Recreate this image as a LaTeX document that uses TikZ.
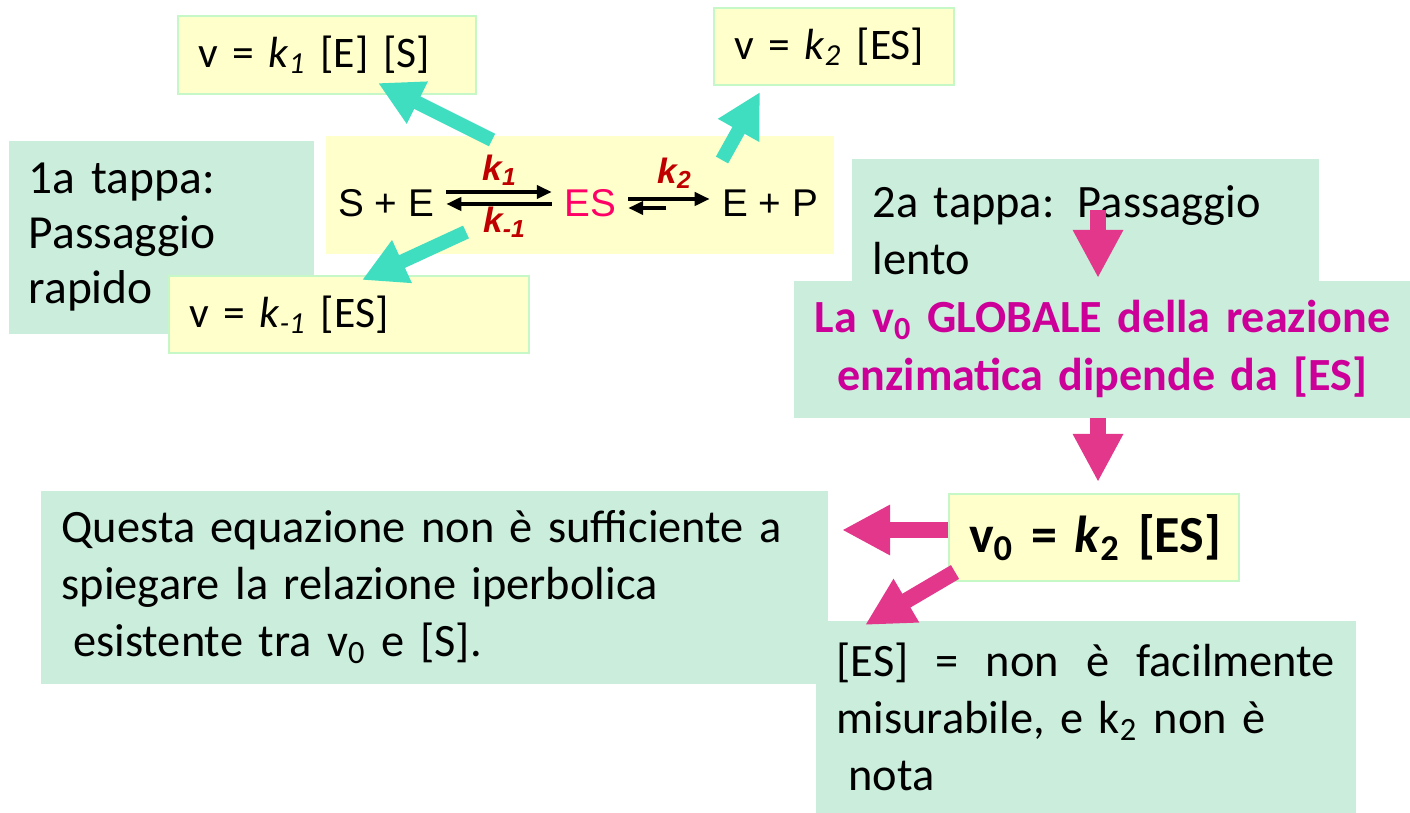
\documentclass[tikz,border=0pt]{standalone}
\usepackage{fontspec}
\setmainfont{Carlito}
\newfontfamily\eqfont{Liberation Sans}
\usetikzlibrary{arrows.meta}
\definecolor{boxgreen}{HTML}{CAEDDC}
\definecolor{boxyellow}{HTML}{FFFFCC}
\definecolor{edgegreen}{HTML}{C6F7C6}
\definecolor{arrowteal}{HTML}{40DEC0}
\definecolor{arrowpink}{HTML}{E2378B}
\definecolor{textmagenta}{HTML}{CC0099}
\definecolor{esred}{HTML}{FF0066}
\definecolor{kred}{HTML}{C00000}

\begin{document}
\begin{tikzpicture}[x=0.01cm, y=-0.01cm,
  greenbox/.style={fill=boxgreen, anchor=north west, inner ysep=0pt, inner xsep=0.2cm,
    font=\fontsize{13.2}{16.2}\selectfont},
  yellowbox/.style={fill=boxyellow, draw=edgegreen, line width=0.6pt, anchor=north west,
    inner xsep=0.2cm, align=left, font=\fontsize{12.4}{15}\selectfont},
  eqtext/.style={font=\eqfont\fontsize{11}{13}\selectfont},
  klabel/.style={text=kred, font=\eqfont\bfseries\itshape\fontsize{10}{12}\selectfont, inner sep=0pt},
  tealarrow/.style={draw=arrowteal, line width=0.14cm, -{Triangle[length=0.44cm, width=0.44cm]}},
  pinkarrow/.style={draw=arrowpink, line width=0.16cm, -{Triangle[length=0.48cm, width=0.47cm]}}]
\useasboundingbox (0,0) rectangle (1410,813);

% top boxes
\node[yellowbox, text width=2.58cm, minimum width=2.98cm, minimum height=0.78cm] (vk1) at (177,15)
  {\makebox[\linewidth][l]{v = \textit{k}\textsubscript{\textit{1}} [E] [S]}};
\node[yellowbox, text width=2.00cm, minimum width=2.40cm, minimum height=0.77cm] (vk2) at (713,7)
  {\makebox[\linewidth][l]{v = \textit{k}\textsubscript{\textit{2}} [ES]}};

% first step
\node[greenbox, align=left, text width=2.65cm, minimum width=3.05cm, minimum height=1.93cm,
  font=\fontsize{13.5}{15.6}\selectfont] (rapid) at (8,140) {1a tappa:\\Passaggio\\rapido};
\node[yellowbox, text width=3.20cm, minimum width=3.60cm, minimum height=0.77cm] (vkm1) at (168,275)
  {\makebox[\linewidth][l]{v = \textit{k}\textsubscript{\textit{-1}} [ES]}};

% reaction
\node[fill=boxyellow, anchor=north west, minimum width=5.08cm, minimum height=1.18cm] (rxn) at (325,135) {};
\node[eqtext] (se) at (386,203) {S + E};
\node[eqtext, text=esred] (es) at (590,203) {ES};
\node[eqtext] (ep) at (770,203) {E + P};
\draw[line width=1.1pt, -{Triangle[length=0.15cm, width=0.13cm]}] ([yshift=0.11cm]se.east) -- ([yshift=0.11cm]es.west);
\draw[line width=1.1pt, -{Triangle[length=0.15cm, width=0.13cm]}] ([yshift=-0.01cm]es.west) -- ([yshift=-0.01cm]se.east);
\draw[line width=1.1pt, -{Triangle[length=0.15cm, width=0.13cm]}] ([yshift=0.04cm]es.east) -- ([yshift=0.04cm]ep.west);
\draw[line width=1.1pt, -{Triangle[length=0.15cm, width=0.13cm]}] ([xshift=0.38cm, yshift=-0.05cm]es.east) -- ([yshift=-0.05cm]es.east);
\node[klabel] (k1) at (500,170) {k\textsubscript{1}};
\node[klabel] (km1) at (505,222) {k\textsubscript{-1}};
\node[klabel] (k2) at (675,173) {k\textsubscript{2}};

% teal arrows
\coordinate (t1s) at (492,140);
\coordinate (t1e) at (378,83);
\coordinate (t2s) at (722,160);
\coordinate (t2e) at (760,92);
\coordinate (t3s) at (466,232);
\coordinate (t3e) at (362,280);
\draw[tealarrow] (t1s) -- (t1e);
\draw[tealarrow] (t2s) -- (t2e);
\draw[tealarrow] (t3s) -- (t3e);

% second step
\node[greenbox, align=left, text width=4.25cm, minimum width=4.67cm, minimum height=1.42cm] (slow) at (851,158) {2a tappa: Passaggio\\lento};
\node[greenbox, align=center, text width=5.77cm, minimum width=6.17cm, minimum height=1.37cm,
  text=textmagenta, font=\bfseries\fontsize{13.1}{16.4}\selectfont] (glob) at (793,280) {La v\textsubscript{0} GLOBALE della reazione\\enzimatica dipende da [ES]};
\coordinate (p1s) at (1098,210);
\coordinate (p1e) at (1098,278);
\draw[pinkarrow] (p1s) -- (p1e);

% rate equation
\node[yellowbox, text width=2.50cm, minimum width=2.90cm, minimum height=0.87cm, font=\bfseries\fontsize{14.8}{18}\selectfont] (v0) at (948,493)
  {\makebox[\linewidth][l]{v\textsubscript{0} = \textit{k}\textsubscript{2} [ES]}};
\coordinate (p2e) at (1098,482);
\draw[pinkarrow] (glob.south -| p2e) -- (p2e);

% bottom boxes
\node[greenbox, align=left, text width=7.45cm, minimum width=7.87cm, minimum height=1.93cm] (note) at (40,490)
  {Questa equazione non è sufficiente a\\spiegare la relazione iperbolica\\\hspace*{0.25em}esistente tra v\textsubscript{0} e [S].};
\node[greenbox, align=left, text width=4.98cm, minimum width=5.40cm, minimum height=1.93cm] (meas) at (815,620)
  {\hbox to \linewidth{[ES]\hfill=\hfill non\hfill è\hfill facilmente}\\misurabile, e k\textsubscript{2} non è\\\hspace*{0.25em}nota};
\coordinate (p3e) at (842,530);
\coordinate (p4s) at (955,572);
\coordinate (p4e) at (865,625);
\draw[pinkarrow] (v0.west |- p3e) -- (p3e);
\draw[pinkarrow] (p4s) -- (p4e);
\end{tikzpicture}
\end{document}
